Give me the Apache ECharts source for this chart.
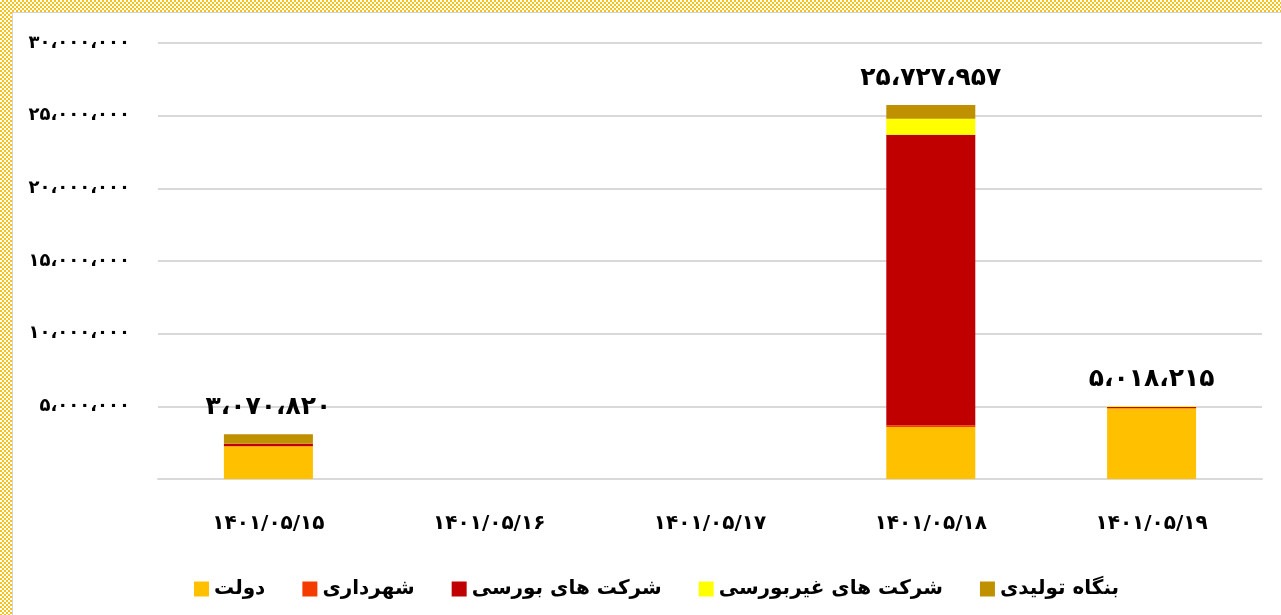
<!DOCTYPE html>
<html>
<head>
<meta charset="utf-8">
<script src="https://cdn.jsdelivr.net/npm/echarts@6/dist/echarts.min.js"></script>
<style>
  html, body { margin: 0; padding: 0; width: 1281px; height: 615px; overflow: hidden; }
  body {
    background: repeating-conic-gradient(#f6c21a 0 25%, #fff 0 50%) 0 0 / 4px 4px;
    position: relative;
  }
  #chart {
    position: absolute; left: 12px; top: 12px; right: 0; bottom: 0;
    background: #fff;
    border-left: 1px solid #d4d4d4; border-top: 1px solid #d4d4d4;
  }
</style>
</head>
<body>
<div id="chart"></div>
<script>
// dates on x axis
const categories = ['1401/05/15', '1401/05/16', '1401/05/17', '1401/05/18', '1401/05/19']

// series values
const dowlat      = [2260000, 0, 0, 3580000, 4850000]   // دولت
const shahrdari   = [0, 0, 0, 110000, 30000]            // شهرداری
const boursi      = [170000, 0, 0, 20000000, 70000]     // شرکت های بورسی
const gheirBoursi = [0, 0, 0, 1100000, 68215]           // شرکت های غیربورسی
const bongah      = [640820, 0, 0, 937957, 0]           // بنگاه تولیدی
const totals      = [3070820, null, null, 25727957, 5018215]

const yTicks = [0, 5000000, 10000000, 15000000, 20000000, 25000000, 30000000]

const FONT = '"DejaVu Sans", "Noto Sans", sans-serif'
const faDigits = '۰۱۲۳۴۵۶۷۸۹'
function toFa(s) {
  return String(s).replace(/[0-9]/g, d => faDigits[+d])
}
function fmt(n) {
  return toFa(String(n).replace(/\B(?=(\d{3})+(?!\d))/g, '،'))
}

const chart = echarts.init(document.getElementById('chart'))

function barSeries(name, data, color) {
  return {
    name: name,
    type: 'bar',
    stack: 'total',
    data: data,
    barWidth: 89,
    itemStyle: { color: color },
    emphasis: { disabled: true }
  }
}

chart.setOption({
  animation: false,
  textStyle: { fontFamily: FONT },
  legend: {
    data: ['دولت', 'شهرداری', 'شرکت های بورسی', 'شرکت های غیربورسی', 'بنگاه تولیدی'],
    left: 176,
    bottom: 11,
    itemWidth: 15,
    itemHeight: 15,
    itemGap: 37,
    icon: 'rect',
    textStyle: { color: '#000', fontSize: 20, fontWeight: 'bold', fontFamily: FONT }
  },
  grid: { left: 145, right: 19, top: 30, bottom: 136 },
  xAxis: {
    type: 'category',
    data: categories,
    axisLine: { lineStyle: { color: '#d9d9d9', width: 2 } },
    axisTick: { show: false },
    axisLabel: {
      color: '#000', fontSize: 20, fontWeight: 'bold', margin: 35,
      formatter: v => toFa(v)
    }
  },
  yAxis: {
    type: 'value',
    min: yTicks[0],
    max: yTicks[yTicks.length - 1],
    interval: yTicks[1] - yTicks[0],
    axisLine: { show: false },
    axisTick: { show: false },
    splitLine: { lineStyle: { color: '#d9d9d9', width: 2 } },
    axisLabel: {
      color: '#000', fontSize: 18, fontWeight: 'bold', margin: 28,
      showMinLabel: false,
      formatter: v => fmt(v)
    }
  },
  series: [
    barSeries('دولت', dowlat, '#FFC000'),
    barSeries('شهرداری', shahrdari, '#F53C00'),
    barSeries('شرکت های بورسی', boursi, '#C00000'),
    barSeries('شرکت های غیربورسی', gheirBoursi, '#FFFF00'),
    barSeries('بنگاه تولیدی', bongah, '#BF9000'),
    {
      name: 'total',
      type: 'scatter',
      data: totals,
      symbolSize: 0,
      silent: true,
      itemStyle: { opacity: 1 },
      label: {
        show: true,
        position: 'top',
        distance: 14,
        color: '#000',
        opacity: 1,
        fontSize: 25,
        fontWeight: 'bold',
        fontFamily: FONT,
        formatter: p => fmt(p.value)
      }
    }
  ]
})
</script>
</body>
</html>
